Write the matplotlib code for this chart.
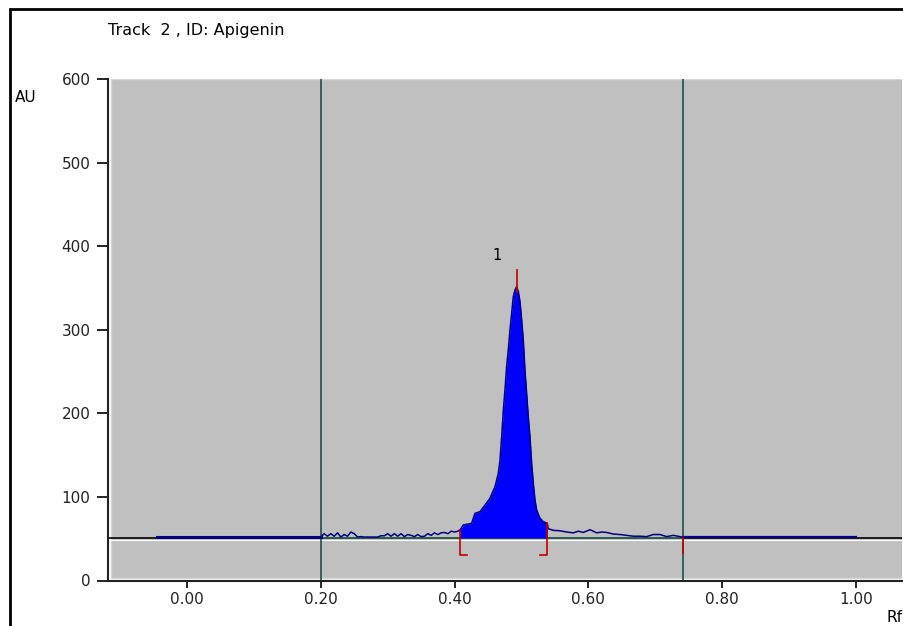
import numpy as np
import matplotlib.pyplot as plt
from matplotlib.patches import Rectangle
from matplotlib.lines import Line2D

# densitogram trace, Rf vs AU
rf_left = [-0.045, 0.200]
au_left = [52, 52]

rf_noise1 = [0.200, 0.205, 0.210, 0.215, 0.220, 0.225, 0.230, 0.235, 0.240, 0.245,
             0.250, 0.255, 0.260, 0.265, 0.270, 0.275, 0.280, 0.285, 0.290, 0.295,
             0.300, 0.305, 0.310, 0.315, 0.320, 0.325, 0.330, 0.335, 0.340, 0.345,
             0.350, 0.355, 0.360, 0.365, 0.370, 0.375, 0.380, 0.385, 0.390, 0.395,
             0.400, 0.405]
au_noise1 = [52, 56, 53, 56, 53, 57, 52, 55, 53, 58,
             56, 52, 52.5, 52, 52, 52, 52, 52, 53.5, 53.5,
             56, 53, 56, 53, 56, 52.5, 55, 54, 52.5, 55,
             52.5, 53, 56, 54, 57, 55, 57, 57.5, 56, 59,
             58, 59]

rf_peak = [0.4081, 0.4130, 0.4255, 0.4305, 0.4380, 0.4455, 0.4529, 0.4604, 0.4654,
           0.4679, 0.4704, 0.4729, 0.4753, 0.4778, 0.4803, 0.4828, 0.4853, 0.4878,
           0.4903, 0.4928, 0.4953, 0.4978, 0.5003, 0.5027, 0.5052, 0.5077, 0.5102,
           0.5127, 0.5152, 0.5177, 0.5202, 0.5227, 0.5277, 0.5326, 0.5386]
au_peak = [60.4, 66.4, 68.4, 80.4, 82.3, 90.3, 98.3, 112.3, 128.3,
           144.2, 172, 204, 228, 255.8, 275.8, 299.7, 319.7, 339.6,
           347.6, 351.6, 345.6, 333.6, 311.7, 287.7, 251.9, 224, 196,
           172, 140.2, 116.3, 96.3, 84.4, 74.4, 70.4, 68.4]

rf_noise2 = [0.5386, 0.540, 0.5476, 0.5575, 0.5676, 0.5774, 0.585, 0.5924, 0.6024,
             0.6124, 0.620, 0.6273, 0.6372, 0.6498, 0.6572, 0.6671, 0.6771, 0.6871,
             0.697, 0.707, 0.717, 0.727, 0.7369, 0.742]
au_noise2 = [68.4, 62, 60, 59.5, 58, 57, 59, 57.5, 60.8,
             57, 58, 57.5, 55.6, 54.8, 54, 53, 53, 52.5,
             55, 55, 52.5, 54, 52.5, 51.5]

rf_right = [0.742, 1.000]
au_right = [51.5, 51.5]

baseline = 51
peak_start, peak_end, peak_max = 0.4081, 0.5386, 0.4928
track_bounds = [0.200, 0.742]

yticks = [0, 100, 200, 300, 400, 500, 600]
xticks = [0.0, 0.2, 0.4, 0.6, 0.8, 1.0]
xticklabels = ['0.00', '0.20', '0.40', '0.60', '0.80', '1.00']

plt.rcParams['font.family'] = 'DejaVu Sans'
fig = plt.figure(figsize=(9.04, 6.26), dpi=100)
W, H = 904, 626
ax = fig.add_axes([108.5 / W, (H - 580.5) / H, (902 - 108.5) / W, (580.5 - 79) / H])
ax.set_facecolor('white')
ax.add_patch(Rectangle((0.003, 0.004), 1.0, 0.996, transform=ax.transAxes,
                       facecolor='#c0c0c0', edgecolor='#d6d6d6', lw=1, zorder=0))

ax.set_xlim(-0.1173, 1.0688)
ax.set_ylim(0, 600)

# baseline
ax.axhline(baseline, color='black', lw=1.2, zorder=1)
ax.axhline(baseline - 2.6, color='white', lw=0.8, zorder=1)
ax.plot(track_bounds, [baseline, baseline], color='#2f6a5c', lw=1.2, zorder=2)

# track limits
for b in track_bounds:
    ax.axvline(b, color='#1f4f4f', lw=1.2, zorder=2)

rf_all = np.concatenate([rf_noise1, rf_peak, rf_noise2])
au_all = np.concatenate([au_noise1, au_peak, au_noise2])

# peak area
ax.fill_between(rf_peak, baseline, au_peak, color='#0000ff', lw=0, zorder=3)

ax.plot(rf_left, au_left, color='#000080', lw=2.2, zorder=4)
ax.plot(rf_right, au_right, color='#000080', lw=1.6, zorder=4)
ax.plot(rf_all, au_all, color='#000080', lw=1.1, zorder=4)

# integration marks
red = '#c00000'
ax.plot([peak_start, peak_start, peak_start + 0.011], [60.4, 30, 30], color=red, lw=1.2, zorder=5)
ax.plot([peak_end, peak_end, peak_end - 0.011], [68.4, 30, 30], color=red, lw=1.2, zorder=5)
ax.plot([peak_max, peak_max], [345, 372], color=red, lw=1.2, zorder=5)
ax.plot([track_bounds[1], track_bounds[1]], [baseline, 33], color=red, lw=1.2, zorder=5)
ax.text(0.463, 389, '1', fontsize=10.5, ha='center', va='center')

for s in ['top', 'right']:
    ax.spines[s].set_visible(False)
for s in ['left', 'bottom']:
    ax.spines[s].set_linewidth(1.5)
    ax.spines[s].set_color('#222222')

ax.set_yticks(yticks)
ax.set_yticklabels([str(v) for v in yticks])
ax.set_xticks(xticks)
ax.set_xticklabels(xticklabels)
ax.tick_params(axis='y', length=8, width=1.2, pad=5, labelsize=11, labelcolor='#222222')
ax.tick_params(axis='x', length=5, width=1.2, pad=3, labelsize=11, labelcolor='#222222')

fig.text(108 / W, 1 - 31 / H, 'Track  2 , ID: Apigenin', fontsize=11.5, va='center', ha='left')
fig.text(15 / W, 1 - 98 / H, 'AU', fontsize=11, va='center', ha='left')
fig.text(903 / W, 1 - 617 / H, 'Rf', fontsize=11, va='center', ha='right')

# outer frame
fig.add_artist(Line2D([9.5 / W, 9.5 / W], [0, 1 - 8 / H], color='black', lw=2,
                      solid_capstyle='butt'))
fig.add_artist(Line2D([9 / W, 1], [1 - 8.5 / H, 1 - 8.5 / H], color='black', lw=2,
                      solid_capstyle='butt'))

fig.savefig('out.png', dpi=100)
